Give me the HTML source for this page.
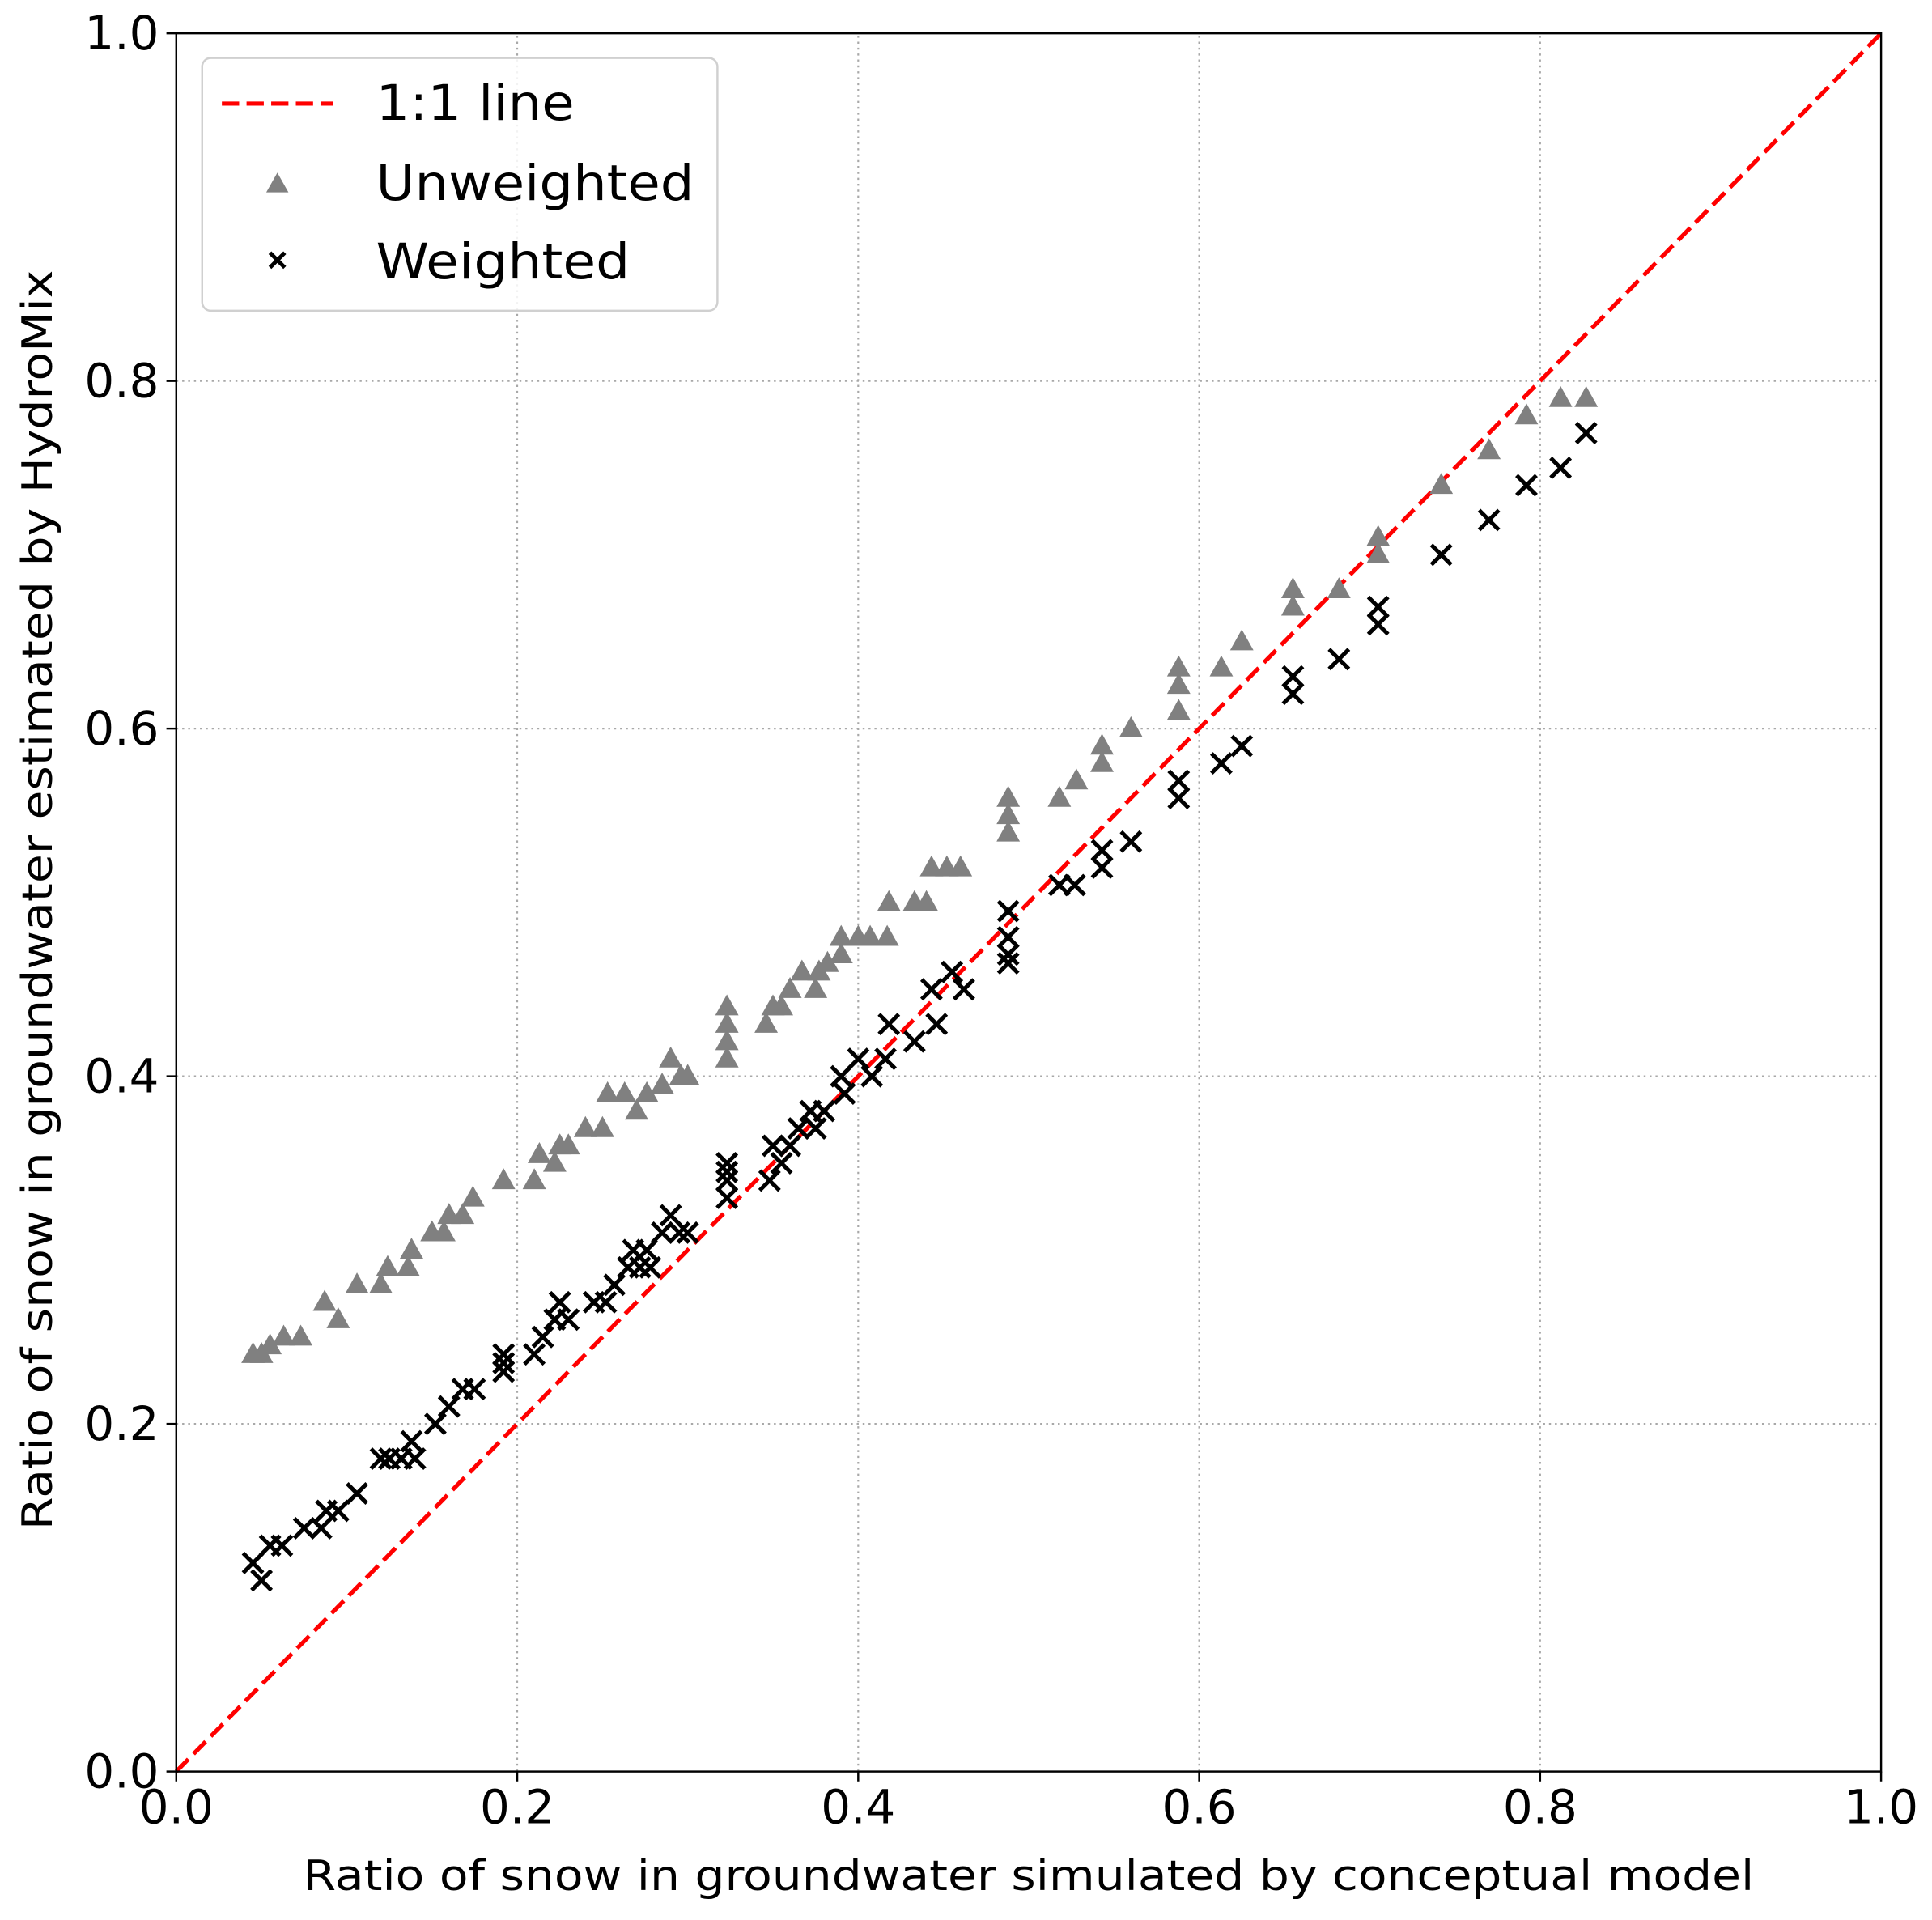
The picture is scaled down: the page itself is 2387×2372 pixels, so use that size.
<!DOCTYPE html>
<html><head><meta charset="utf-8"><style>
html,body{margin:0;padding:0;background:#fff;}
svg{display:block;font-family:"DejaVu Sans","Liberation Sans",sans-serif;}
</style></head><body>
<svg id="chart" width="2387" height="2372" viewBox="0 0 1567.3 1557.4" xmlns="http://www.w3.org/2000/svg">
<g id="grid"></g>
<g id="marks"></g>
<rect x="143" y="27" width="1383" height="1410" fill="none" stroke="#000" stroke-width="1.6"/>
<g id="ticks"></g>
<text x="834.5" y="1533" font-size="34" text-anchor="middle" textLength="1177" lengthAdjust="spacingAndGlyphs">Ratio of snow in groundwater simulated by conceptual model</text>
<text transform="translate(42,730) rotate(-90)" font-size="34" text-anchor="middle" textLength="1022" lengthAdjust="spacingAndGlyphs">Ratio of snow in groundwater estimated by HydroMix</text>
<g>
<rect x="164" y="47" width="418" height="205" rx="7" fill="#fff" fill-opacity="0.85" stroke="#d0d0d0" stroke-width="1.6"/>
<g>
<line x1="180" y1="84" x2="270" y2="84" stroke="#ff0000" stroke-width="3.4" stroke-dasharray="14,6"/>
<text x="305" y="97" font-size="40" textLength="161" lengthAdjust="spacingAndGlyphs">1:1 line</text></g>
<g>
<path d="M225,140 L234,156 L216,156 Z" fill="#808080"/>
<text x="305" y="162" font-size="40" textLength="258" lengthAdjust="spacingAndGlyphs">Unweighted</text></g>
<g>
<path d="M219,205 L231,217 M231,205 L219,217" stroke="#000" stroke-width="3.2"/>
<text x="305" y="226" font-size="40" textLength="206" lengthAdjust="spacingAndGlyphs">Weighted</text></g>
</g>
</svg>
<script>
const xTicks=[0,0.2,0.4,0.6,0.8,1.0];
const yTicks=[0,0.2,0.4,0.6,0.8,1.0];
const tickLabels=["0.0","0.2","0.4","0.6","0.8","1.0"];
const unwX=[0.045,0.05,0.055,0.063,0.073,0.087,0.095,0.106,0.12,0.124,0.136,0.138,0.15,0.157,0.16,0.168,0.174,0.192,0.21,0.213,0.222,0.225,0.23,0.24,0.25,0.253,0.263,0.27,0.276,0.285,0.29,0.296,0.3,0.323,0.323,0.323,0.323,0.346,0.35,0.355,0.36,0.367,0.375,0.377,0.382,0.39,0.39,0.4,0.407,0.417,0.418,0.433,0.44,0.443,0.452,0.46,0.488,0.488,0.488,0.518,0.528,0.543,0.543,0.56,0.588,0.588,0.588,0.613,0.625,0.655,0.655,0.682,0.705,0.705,0.742,0.77,0.792,0.812,0.827];
const unwY=[0.24,0.24,0.245,0.25,0.25,0.27,0.26,0.28,0.28,0.29,0.29,0.30,0.31,0.31,0.32,0.32,0.33,0.34,0.34,0.355,0.35,0.36,0.36,0.37,0.37,0.39,0.39,0.38,0.39,0.395,0.41,0.40,0.40,0.41,0.42,0.43,0.44,0.43,0.44,0.44,0.45,0.46,0.45,0.46,0.465,0.47,0.48,0.48,0.48,0.48,0.50,0.50,0.50,0.52,0.52,0.52,0.54,0.55,0.56,0.56,0.57,0.58,0.59,0.60,0.61,0.625,0.635,0.635,0.65,0.67,0.68,0.68,0.70,0.71,0.74,0.76,0.78,0.79,0.79];
const wX=[0.045,0.05,0.055,0.062,0.075,0.085,0.088,0.095,0.106,0.12,0.125,0.132,0.138,0.14,0.152,0.16,0.168,0.175,0.192,0.192,0.192,0.21,0.215,0.222,0.225,0.23,0.245,0.252,0.257,0.265,0.268,0.272,0.276,0.278,0.285,0.29,0.295,0.3,0.323,0.323,0.323,0.323,0.348,0.35,0.355,0.36,0.365,0.372,0.375,0.38,0.39,0.392,0.4,0.408,0.416,0.418,0.433,0.443,0.446,0.455,0.462,0.488,0.488,0.488,0.488,0.518,0.527,0.543,0.543,0.56,0.588,0.588,0.613,0.625,0.655,0.655,0.682,0.705,0.705,0.742,0.77,0.792,0.812,0.827];
const wY=[0.12,0.11,0.13,0.13,0.14,0.14,0.15,0.15,0.16,0.18,0.18,0.18,0.19,0.18,0.20,0.21,0.22,0.22,0.23,0.235,0.24,0.24,0.25,0.26,0.27,0.26,0.27,0.27,0.28,0.29,0.30,0.29,0.30,0.29,0.31,0.32,0.31,0.31,0.33,0.34,0.345,0.35,0.34,0.36,0.35,0.36,0.37,0.38,0.37,0.38,0.40,0.39,0.41,0.40,0.41,0.43,0.42,0.45,0.43,0.46,0.45,0.465,0.47,0.48,0.495,0.51,0.51,0.52,0.53,0.535,0.56,0.57,0.58,0.59,0.62,0.63,0.64,0.66,0.67,0.70,0.72,0.74,0.75,0.77];
const NS="http://www.w3.org/2000/svg";
const X0=143,X1=1526,Y0=1437,Y1=27;
function sx(v){return X0+(X1-X0)*v;}
function sy(v){return Y0-(Y0-Y1)*v;}
function mk(tag,attrs,parent){const e=document.createElementNS(NS,tag);for(const k in attrs)e.setAttribute(k,attrs[k]);parent.appendChild(e);return e;}
const grid=document.getElementById('grid'),marks=document.getElementById('marks'),ticks=document.getElementById('ticks');
xTicks.forEach((v,i)=>{
 if(v>0&&v<1){const g=mk('line',{x1:sx(v),x2:sx(v),y1:Y0,y2:Y1,stroke:'#a8a8a8','stroke-width':1.4,'stroke-dasharray':'1.6,3.2'},grid);
 
 }
 const t=mk('line',{x1:sx(v),x2:sx(v),y1:Y0,y2:Y0+8,stroke:'#000','stroke-width':1.6},ticks);
 
 
 const l=mk('text',{x:sx(v),y:Y0+42,'font-size':38,'text-anchor':'middle'},ticks);l.textContent=tickLabels[i];
 
 
});
yTicks.forEach((v,i)=>{
 if(v>0&&v<1){const g=mk('line',{x1:X0,x2:X1,y1:sy(v),y2:sy(v),stroke:'#a8a8a8','stroke-width':1.4,'stroke-dasharray':'1.6,3.2'},grid);
 
 }
 const t=mk('line',{x1:X0-8,x2:X0,y1:sy(v),y2:sy(v),stroke:'#000','stroke-width':1.6},ticks);
 
 
 const l=mk('text',{x:X0-14,y:sy(v)+13,'font-size':38,'text-anchor':'end'},ticks);l.textContent=tickLabels[i];
 
 
});
const oneLine=mk('line',{x1:sx(0),y1:sy(0),x2:sx(1),y2:sy(1),stroke:'#ff0000','stroke-width':3.4,'stroke-dasharray':'14,6'},marks);


unwX.forEach((v,i)=>{
 const x=sx(v),y=sy(unwY[i]);
 const p=mk('path',{d:`M${x},${y-10} L${x+9.5},${y+7} L${x-9.5},${y+7} Z`,fill:'#808080'},marks);
 
 
});
wX.forEach((v,i)=>{
 const x=sx(v),y=sy(wY[i]);
 const p=mk('path',{d:`M${x-8},${y-8} L${x+8},${y+8} M${x+8},${y-8} L${x-8},${y+8}`,stroke:'#000','stroke-width':3.3,fill:'none'},marks);
 
 
});
</script>
</body></html>
